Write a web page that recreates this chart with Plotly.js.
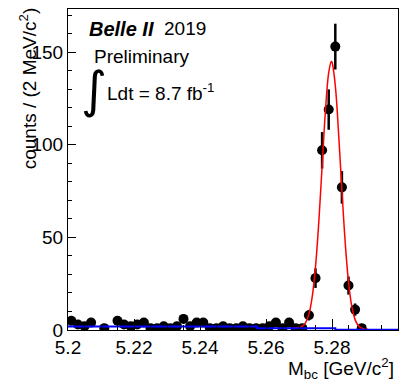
<!DOCTYPE html>
<html>
<head>
<meta charset="utf-8">
<script src="https://cdn.plot.ly/plotly-3.0.1.min.js"></script>
<style>html,body{margin:0;padding:0;background:#fff;}#chart{width:408px;height:382px;}</style>
</head>
<body>
<div id="chart"></div>
<script>
// Bin centres (GeV/c^2), 2 MeV bins
const binCenters = [5.201,5.203,5.205,5.207,5.209,5.211,5.213,5.215,5.217,5.219,
  5.221,5.223,5.225,5.227,5.229,5.231,5.233,5.235,5.237,5.239,
  5.241,5.243,5.245,5.247,5.249,5.251,5.253,5.255,5.257,5.259,
  5.261,5.263,5.265,5.267,5.269,5.271,5.273,5.275,5.277,5.279,
  5.281,5.283,5.285,5.287,5.289,5.291,5.293,5.295,5.297,5.299];
const counts = [5,3,2,4,0,1,0,5,3,2,
  3,4,1,1,2,1,2,6,2,4,
  4,1,1,2,1,1,2,1,1,1,
  2,4,1,4,1,1,8,28,97,119,
  153,77,24,11,1,0,0,0,0,0];
// Fit curve (signal + background)
const fitX = [5.268,5.270,5.271,5.272,5.273,5.274,5.275,5.276,5.277,5.278,5.279,5.2798,5.280,5.281,5.282,5.283,5.284,5.285,5.286,5.287,5.288,5.289,5.290,5.291];
const fitY = [1.0,1.3,2.0,4.0,8.5,17.9,34.1,58.3,88.3,118,139,145,144.6,132,106,75.5,47.3,26,12.7,5.6,2.3,1.0,0.5,0.3];
// Background component (blue)
const bkgX = [5.2,5.2573,5.281,5.3];
const bkgY = [1.9,1.0,0.2,0.2];

const shownX = [], shownY = [], shownErr = [];
binCenters.forEach((x,i)=>{ if(counts[i]>0){ shownX.push(x); shownY.push(counts[i]); shownErr.push(Math.sqrt(counts[i])); } });

const F = 'Liberation Sans, Arial, Helvetica, sans-serif';
const data = [
  {x: shownX, y: shownY, type:'scatter', mode:'markers',
   marker:{color:'#000', size:10},
   error_y:{type:'data', array: shownErr, visible:true, color:'#000', thickness:2.5, width:0}},
  {x: fitX, y: fitY, type:'scatter', mode:'lines', line:{color:'#ff0000', width:1.5, shape:'spline'}, hoverinfo:'skip'},
  {x: bkgX, y: bkgY, type:'scatter', mode:'lines', line:{color:'#0000ff', width:2, shape:'hv'}, hoverinfo:'skip', cliponaxis:false}
];
const layout = {
  width:408, height:382,
  margin:{l:68, r:10, t:9, b:52},
  paper_bgcolor:'#fff', plot_bgcolor:'#fff',
  showlegend:false,
  font:{family:F, size:19, color:'#000'},
  xaxis:{range:[5.2,5.3], dtick:0.02, tick0:5.2, ticks:'inside', ticklen:11, tickwidth:1, tickcolor:'#000',
    minor:{dtick:0.005, ticks:'inside', ticklen:5, tickcolor:'#000'},
    showline:true, linecolor:'#000', linewidth:1, mirror:true, showgrid:false, zeroline:false,
    tickfont:{family:F, size:19}},
  yaxis:{range:[0,173.3], dtick:50, tick0:0, ticks:'inside', ticklen:8, tickwidth:1, tickcolor:'#000',
    minor:{dtick:10, ticks:'inside', ticklen:4, tickcolor:'#000'},
    showline:true, linecolor:'#000', linewidth:1, mirror:true, showgrid:false, zeroline:false,
    tickfont:{family:F, size:19}},
  annotations:[
    {xref:'paper', yref:'paper', x:(87-67.7)/330, y:0.938, xanchor:'left', yanchor:'middle', showarrow:false,
     text:'<b><i>Belle II</i></b>', font:{family:F, size:20}},
    {xref:'paper', yref:'paper', x:(162-67.7)/330, y:0.938, xanchor:'left', yanchor:'middle', showarrow:false,
     text:'2019', font:{family:F, size:19}},
    {xref:'paper', yref:'paper', x:(92-67.7)/330, y:0.852, xanchor:'left', yanchor:'middle', showarrow:false,
     text:'Preliminary', font:{family:F, size:19}},
    {xref:'paper', yref:'paper', x:0.08, y:(330-90)/321, xanchor:'center', yanchor:'middle', showarrow:false,
     text:'∫', font:{family:'DejaVu Sans, sans-serif', size:50}},
    {xref:'paper', yref:'paper', x:(104.5-67.7)/330, y:0.741, xanchor:'left', yanchor:'middle', showarrow:false,
     text:'Ldt = 8.7 fb<sup>-1</sup>', font:{family:F, size:19}},
    {xref:'paper', yref:'paper', x:(28-67.7)/330, y:(330-5)/321, xanchor:'center', yanchor:'top', showarrow:false,
     textangle:-90, text:'counts / (2 MeV/c<sup>2</sup>)', font:{family:F, size:19}},
    {xref:'paper', yref:'paper', x:(396-67.7)/330, y:(330-369)/321, xanchor:'right', yanchor:'middle', showarrow:false,
     text:'M<sub>bc</sub> [GeV/c<sup>2</sup>]', font:{family:F, size:19}}
  ]
};
Plotly.newPlot('chart', data, layout, {displayModeBar:false, staticPlot:true});
</script>
</body>
</html>
